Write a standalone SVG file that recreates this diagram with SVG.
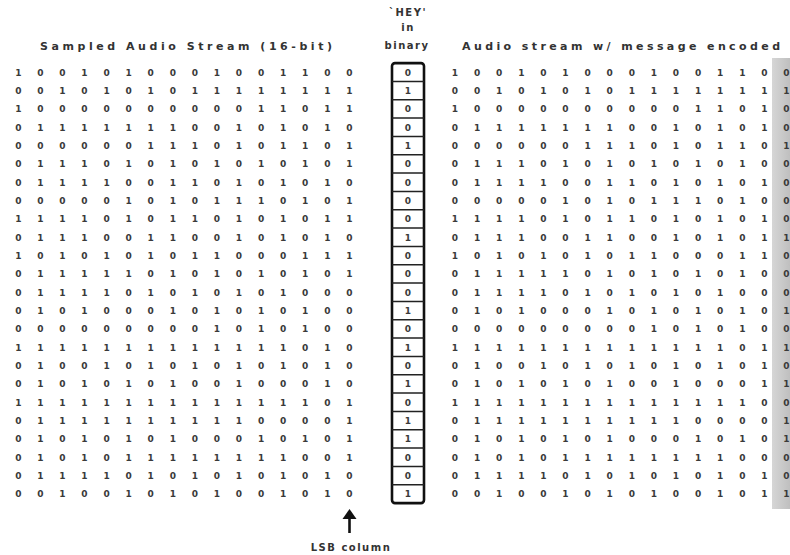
<svg xmlns="http://www.w3.org/2000/svg" width="790" height="555" viewBox="0 0 790 555">
  <defs>
    <linearGradient id="lsbShade" x1="0" y1="0" x2="1" y2="0">
      <stop offset="0" stop-color="#d6d6d6"/>
      <stop offset="1" stop-color="#bfbfbf"/>
    </linearGradient>
    <style>
      .hdr { font-family: "DejaVu Sans", "Liberation Sans", sans-serif; font-weight: bold; font-size: 11px; fill: #333; }
      .lbl { font-family: "DejaVu Sans", "Liberation Sans", sans-serif; font-weight: bold; font-size: 10px; fill: #333; text-anchor: middle; letter-spacing: 1.5px; }
      .bit { font-family: "DejaVu Sans", "Liberation Sans", sans-serif; font-weight: bold; font-size: 9px; fill: #3a3a3a; text-anchor: middle; }
      .box { fill: #fff; stroke: #111; stroke-width: 2.6; }
      .div { fill: none; stroke: #222; stroke-width: 1.5; }
      .arr { stroke: #111; stroke-width: 2.6; fill: none; }
    </style>
  </defs>
  <rect width="790" height="555" fill="#fff"/>

  <g id="header-left">
    <text class="hdr" x="40" y="50" textLength="292" lengthAdjust="spacing">Sampled Audio Stream (16-bit)</text>
  </g>
  <g id="header-right">
    <text class="hdr" x="462" y="50" textLength="318" lengthAdjust="spacing">Audio stream w/ message encoded</text>
  </g>
  <g id="header-middle">
    <text class="lbl" x="408" y="16">`HEY'</text>
    <text class="lbl" x="408" y="31">in</text>
    <text class="lbl" x="407" y="49">binary</text>
  </g>

  <g id="sampled-stream">
    <text class="bit" x="18.3 40.4 62.4 84.5 106.6 128.7 150.7 172.8 194.9 216.9 239.0 261.1 283.1 305.2 327.3 349.4" y="75.6">1001010001001100</text>
    <text class="bit" x="18.3 40.4 62.4 84.5 106.6 128.7 150.7 172.8 194.9 216.9 239.0 261.1 283.1 305.2 327.3 349.4" y="93.9">0010101011111111</text>
    <text class="bit" x="18.3 40.4 62.4 84.5 106.6 128.7 150.7 172.8 194.9 216.9 239.0 261.1 283.1 305.2 327.3 349.4" y="112.3">1000000000011011</text>
    <text class="bit" x="18.3 40.4 62.4 84.5 106.6 128.7 150.7 172.8 194.9 216.9 239.0 261.1 283.1 305.2 327.3 349.4" y="130.6">0111111100101010</text>
    <text class="bit" x="18.3 40.4 62.4 84.5 106.6 128.7 150.7 172.8 194.9 216.9 239.0 261.1 283.1 305.2 327.3 349.4" y="148.9">0000001110101101</text>
    <text class="bit" x="18.3 40.4 62.4 84.5 106.6 128.7 150.7 172.8 194.9 216.9 239.0 261.1 283.1 305.2 327.3 349.4" y="167.3">0111010101010101</text>
    <text class="bit" x="18.3 40.4 62.4 84.5 106.6 128.7 150.7 172.8 194.9 216.9 239.0 261.1 283.1 305.2 327.3 349.4" y="185.6">0111100110101010</text>
    <text class="bit" x="18.3 40.4 62.4 84.5 106.6 128.7 150.7 172.8 194.9 216.9 239.0 261.1 283.1 305.2 327.3 349.4" y="203.9">0000010101110101</text>
    <text class="bit" x="18.3 40.4 62.4 84.5 106.6 128.7 150.7 172.8 194.9 216.9 239.0 261.1 283.1 305.2 327.3 349.4" y="222.2">1111010110101011</text>
    <text class="bit" x="18.3 40.4 62.4 84.5 106.6 128.7 150.7 172.8 194.9 216.9 239.0 261.1 283.1 305.2 327.3 349.4" y="240.6">0111001100101010</text>
    <text class="bit" x="18.3 40.4 62.4 84.5 106.6 128.7 150.7 172.8 194.9 216.9 239.0 261.1 283.1 305.2 327.3 349.4" y="258.9">1010101011000111</text>
    <text class="bit" x="18.3 40.4 62.4 84.5 106.6 128.7 150.7 172.8 194.9 216.9 239.0 261.1 283.1 305.2 327.3 349.4" y="277.2">0111110101010101</text>
    <text class="bit" x="18.3 40.4 62.4 84.5 106.6 128.7 150.7 172.8 194.9 216.9 239.0 261.1 283.1 305.2 327.3 349.4" y="295.6">0111101010101000</text>
    <text class="bit" x="18.3 40.4 62.4 84.5 106.6 128.7 150.7 172.8 194.9 216.9 239.0 261.1 283.1 305.2 327.3 349.4" y="313.9">0101000101010100</text>
    <text class="bit" x="18.3 40.4 62.4 84.5 106.6 128.7 150.7 172.8 194.9 216.9 239.0 261.1 283.1 305.2 327.3 349.4" y="332.2">0000000001010100</text>
    <text class="bit" x="18.3 40.4 62.4 84.5 106.6 128.7 150.7 172.8 194.9 216.9 239.0 261.1 283.1 305.2 327.3 349.4" y="350.6">1111111111111010</text>
    <text class="bit" x="18.3 40.4 62.4 84.5 106.6 128.7 150.7 172.8 194.9 216.9 239.0 261.1 283.1 305.2 327.3 349.4" y="368.9">0100101010101010</text>
    <text class="bit" x="18.3 40.4 62.4 84.5 106.6 128.7 150.7 172.8 194.9 216.9 239.0 261.1 283.1 305.2 327.3 349.4" y="387.2">0101010100100010</text>
    <text class="bit" x="18.3 40.4 62.4 84.5 106.6 128.7 150.7 172.8 194.9 216.9 239.0 261.1 283.1 305.2 327.3 349.4" y="405.5">1111111111111101</text>
    <text class="bit" x="18.3 40.4 62.4 84.5 106.6 128.7 150.7 172.8 194.9 216.9 239.0 261.1 283.1 305.2 327.3 349.4" y="423.9">0111111111100001</text>
    <text class="bit" x="18.3 40.4 62.4 84.5 106.6 128.7 150.7 172.8 194.9 216.9 239.0 261.1 283.1 305.2 327.3 349.4" y="442.2">0101010100010101</text>
    <text class="bit" x="18.3 40.4 62.4 84.5 106.6 128.7 150.7 172.8 194.9 216.9 239.0 261.1 283.1 305.2 327.3 349.4" y="460.5">0101011111111001</text>
    <text class="bit" x="18.3 40.4 62.4 84.5 106.6 128.7 150.7 172.8 194.9 216.9 239.0 261.1 283.1 305.2 327.3 349.4" y="478.9">0111101010101010</text>
    <text class="bit" x="18.3 40.4 62.4 84.5 106.6 128.7 150.7 172.8 194.9 216.9 239.0 261.1 283.1 305.2 327.3 349.4" y="497.2">0010010101001010</text>
  </g>

  <g id="message-column">
    <rect class="box" x="392" y="63.1" width="32" height="440" rx="3"/>
    <path class="div" d="M392 81.4H424M392 99.8H424M392 118.1H424M392 136.4H424M392 154.8H424M392 173.1H424M392 191.4H424M392 209.7H424M392 228.1H424M392 246.4H424M392 264.7H424M392 283.1H424M392 301.4H424M392 319.7H424M392 338.0H424M392 356.4H424M392 374.7H424M392 393.0H424M392 411.4H424M392 429.7H424M392 448.0H424M392 466.4H424M392 484.7H424"/>
    <text class="bit" x="408" y="75.6">0</text>
    <text class="bit" x="408" y="93.9">1</text>
    <text class="bit" x="408" y="112.3">0</text>
    <text class="bit" x="408" y="130.6">0</text>
    <text class="bit" x="408" y="148.9">1</text>
    <text class="bit" x="408" y="167.3">0</text>
    <text class="bit" x="408" y="185.6">0</text>
    <text class="bit" x="408" y="203.9">0</text>
    <text class="bit" x="408" y="222.2">0</text>
    <text class="bit" x="408" y="240.6">1</text>
    <text class="bit" x="408" y="258.9">0</text>
    <text class="bit" x="408" y="277.2">0</text>
    <text class="bit" x="408" y="295.6">0</text>
    <text class="bit" x="408" y="313.9">1</text>
    <text class="bit" x="408" y="332.2">0</text>
    <text class="bit" x="408" y="350.6">1</text>
    <text class="bit" x="408" y="368.9">0</text>
    <text class="bit" x="408" y="387.2">1</text>
    <text class="bit" x="408" y="405.5">0</text>
    <text class="bit" x="408" y="423.9">1</text>
    <text class="bit" x="408" y="442.2">1</text>
    <text class="bit" x="408" y="460.5">0</text>
    <text class="bit" x="408" y="478.9">0</text>
    <text class="bit" x="408" y="497.2">1</text>
  </g>

  <g id="encoded-stream">
    <rect x="772" y="58" width="18" height="451" fill="url(#lsbShade)"/>
    <text class="bit" x="455.0 477.1 499.2 521.3 543.4 565.5 587.6 609.7 631.8 653.9 676.0 698.1 720.2 742.3 764.4 786.5" y="75.6">1001010001001100</text>
    <text class="bit" x="455.0 477.1 499.2 521.3 543.4 565.5 587.6 609.7 631.8 653.9 676.0 698.1 720.2 742.3 764.4 786.5" y="93.9">0010101011111111</text>
    <text class="bit" x="455.0 477.1 499.2 521.3 543.4 565.5 587.6 609.7 631.8 653.9 676.0 698.1 720.2 742.3 764.4 786.5" y="112.3">1000000000011010</text>
    <text class="bit" x="455.0 477.1 499.2 521.3 543.4 565.5 587.6 609.7 631.8 653.9 676.0 698.1 720.2 742.3 764.4 786.5" y="130.6">0111111100101010</text>
    <text class="bit" x="455.0 477.1 499.2 521.3 543.4 565.5 587.6 609.7 631.8 653.9 676.0 698.1 720.2 742.3 764.4 786.5" y="148.9">0000001110101101</text>
    <text class="bit" x="455.0 477.1 499.2 521.3 543.4 565.5 587.6 609.7 631.8 653.9 676.0 698.1 720.2 742.3 764.4 786.5" y="167.3">0111010101010100</text>
    <text class="bit" x="455.0 477.1 499.2 521.3 543.4 565.5 587.6 609.7 631.8 653.9 676.0 698.1 720.2 742.3 764.4 786.5" y="185.6">0111100110101010</text>
    <text class="bit" x="455.0 477.1 499.2 521.3 543.4 565.5 587.6 609.7 631.8 653.9 676.0 698.1 720.2 742.3 764.4 786.5" y="203.9">0000010101110100</text>
    <text class="bit" x="455.0 477.1 499.2 521.3 543.4 565.5 587.6 609.7 631.8 653.9 676.0 698.1 720.2 742.3 764.4 786.5" y="222.2">1111010110101010</text>
    <text class="bit" x="455.0 477.1 499.2 521.3 543.4 565.5 587.6 609.7 631.8 653.9 676.0 698.1 720.2 742.3 764.4 786.5" y="240.6">0111001100101011</text>
    <text class="bit" x="455.0 477.1 499.2 521.3 543.4 565.5 587.6 609.7 631.8 653.9 676.0 698.1 720.2 742.3 764.4 786.5" y="258.9">1010101011000110</text>
    <text class="bit" x="455.0 477.1 499.2 521.3 543.4 565.5 587.6 609.7 631.8 653.9 676.0 698.1 720.2 742.3 764.4 786.5" y="277.2">0111110101010100</text>
    <text class="bit" x="455.0 477.1 499.2 521.3 543.4 565.5 587.6 609.7 631.8 653.9 676.0 698.1 720.2 742.3 764.4 786.5" y="295.6">0111101010101000</text>
    <text class="bit" x="455.0 477.1 499.2 521.3 543.4 565.5 587.6 609.7 631.8 653.9 676.0 698.1 720.2 742.3 764.4 786.5" y="313.9">0101000101010101</text>
    <text class="bit" x="455.0 477.1 499.2 521.3 543.4 565.5 587.6 609.7 631.8 653.9 676.0 698.1 720.2 742.3 764.4 786.5" y="332.2">0000000001010100</text>
    <text class="bit" x="455.0 477.1 499.2 521.3 543.4 565.5 587.6 609.7 631.8 653.9 676.0 698.1 720.2 742.3 764.4 786.5" y="350.6">1111111111111011</text>
    <text class="bit" x="455.0 477.1 499.2 521.3 543.4 565.5 587.6 609.7 631.8 653.9 676.0 698.1 720.2 742.3 764.4 786.5" y="368.9">0100101010101010</text>
    <text class="bit" x="455.0 477.1 499.2 521.3 543.4 565.5 587.6 609.7 631.8 653.9 676.0 698.1 720.2 742.3 764.4 786.5" y="387.2">0101010100100011</text>
    <text class="bit" x="455.0 477.1 499.2 521.3 543.4 565.5 587.6 609.7 631.8 653.9 676.0 698.1 720.2 742.3 764.4 786.5" y="405.5">1111111111111100</text>
    <text class="bit" x="455.0 477.1 499.2 521.3 543.4 565.5 587.6 609.7 631.8 653.9 676.0 698.1 720.2 742.3 764.4 786.5" y="423.9">0111111111100001</text>
    <text class="bit" x="455.0 477.1 499.2 521.3 543.4 565.5 587.6 609.7 631.8 653.9 676.0 698.1 720.2 742.3 764.4 786.5" y="442.2">0101010100010101</text>
    <text class="bit" x="455.0 477.1 499.2 521.3 543.4 565.5 587.6 609.7 631.8 653.9 676.0 698.1 720.2 742.3 764.4 786.5" y="460.5">0101011111111000</text>
    <text class="bit" x="455.0 477.1 499.2 521.3 543.4 565.5 587.6 609.7 631.8 653.9 676.0 698.1 720.2 742.3 764.4 786.5" y="478.9">0111101010101010</text>
    <text class="bit" x="455.0 477.1 499.2 521.3 543.4 565.5 587.6 609.7 631.8 653.9 676.0 698.1 720.2 742.3 764.4 786.5" y="497.2">0010010101001011</text>
  </g>

  <g id="connectors">
    <line class="arr" x1="349.5" y1="533" x2="349.5" y2="517"/>
    <polygon points="349.5,509 342.5,519 356.5,519" fill="#111"/>
  </g>

  <g id="lsb-label">
    <text class="lbl" x="351" y="551">LSB column</text>
  </g>
</svg>
